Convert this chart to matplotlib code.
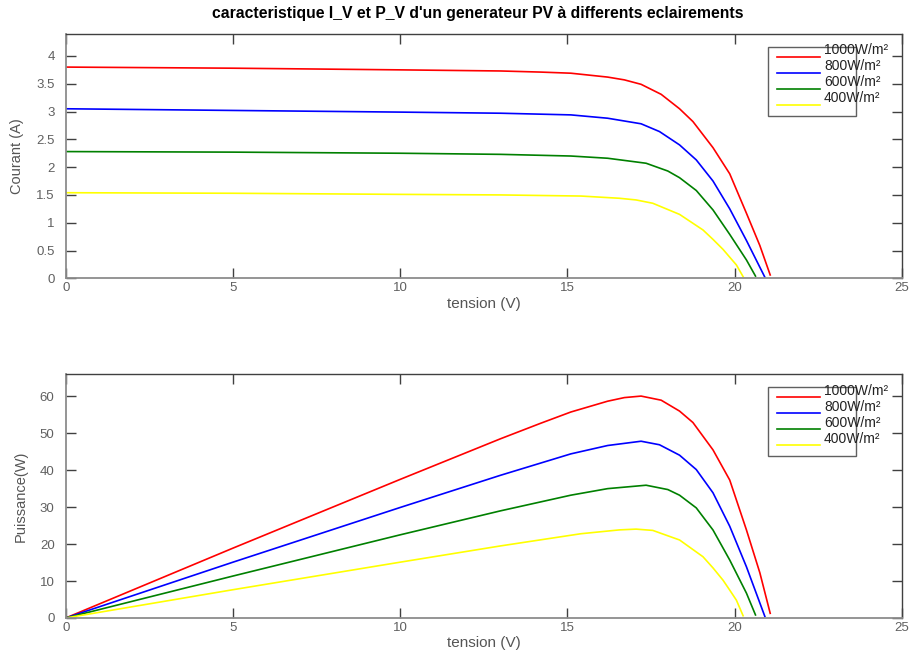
import numpy as np
import matplotlib
matplotlib.use("Agg")
import matplotlib.pyplot as plt
from matplotlib.patches import Rectangle

plt.rcParams['font.family'] = ['Liberation Sans', 'DejaVu Sans']

# Courbes I(V) relevées pour chaque éclairement
eclairements = ['1000W/m²', '800W/m²', '600W/m²', '400W/m²']
couleurs = ['#ff0000', '#0000ff', '#008000', '#ffff00']

v_1000 = [0, 5, 10, 13, 14.2, 15.1, 16.2, 16.7, 17.2, 17.8, 18.35, 18.75, 19.35, 19.85, 20.35, 20.75, 21.06]
i_1000 = [3.80, 3.78, 3.75, 3.73, 3.71, 3.69, 3.62, 3.57, 3.49, 3.31, 3.05, 2.82, 2.35, 1.88, 1.17, 0.59, 0.06]

v_800 = [0, 5, 10, 13, 15.1, 16.2, 17.2, 17.75, 18.35, 18.85, 19.35, 19.85, 20.35, 20.9]
i_800 = [3.05, 3.02, 2.99, 2.97, 2.94, 2.88, 2.78, 2.64, 2.40, 2.13, 1.75, 1.25, 0.68, 0.02]

v_600 = [0, 5, 10, 13, 15.1, 16.2, 17.35, 18.0, 18.35, 18.85, 19.35, 19.85, 20.35, 20.62]
i_600 = [2.28, 2.27, 2.25, 2.23, 2.20, 2.16, 2.07, 1.93, 1.81, 1.58, 1.23, 0.79, 0.33, 0.04]

v_400 = [0, 5, 10, 13, 15.4, 16.55, 17.05, 17.55, 18.35, 19.05, 19.35, 19.65, 19.85, 20.05, 20.25]
i_400 = [1.54, 1.53, 1.51, 1.50, 1.48, 1.44, 1.41, 1.35, 1.15, 0.87, 0.70, 0.52, 0.38, 0.24, 0.03]

tensions = [v_1000, v_800, v_600, v_400]
courants = [i_1000, i_800, i_600, i_400]

fig = plt.figure(figsize=(9.09, 6.55), dpi=100)
ax1 = fig.add_axes([0.0723, 0.5751, 0.9200, 0.3734])
ax2 = fig.add_axes([0.0723, 0.0565, 0.9200, 0.3725])

for v, i, c in zip(tensions, courants, couleurs):
    v = np.array(v)
    i = np.array(i)
    ax1.plot(v, i, color=c, lw=1.2)
    ax2.plot(v, v * i, color=c, lw=1.2)

ax1.set_ylim(0, 4.4)
ax1.set_yticks(np.arange(0, 4.01, 0.5))
ax1.set_yticklabels(['0', '0.5', '1', '1.5', '2', '2.5', '3', '3.5', '4'])
ax2.set_ylim(0, 66)
ax2.set_yticks(np.arange(0, 61, 10))

ax1.set_ylabel('Courant (A)', fontsize=10.5, color='#555555', va='center')
ax2.set_ylabel('Puissance(W)', fontsize=10.5, color='#555555', va='center')
ax1.yaxis.set_label_coords(-0.058, 0.5)
ax2.yaxis.set_label_coords(-0.054, 0.5)

for ax in (ax1, ax2):
    ax.set_xlim(0, 25)
    ax.set_xticks(np.arange(0, 26, 5))
    ax.set_xlabel('tension (V)', fontsize=11, color='#555555', va='center')
    ax.xaxis.set_label_coords(0.5, -0.103)
    ax.tick_params(direction='in', length=7, width=1, color='#404040',
                   labelcolor='#606060', labelsize=9.5, top=True, right=True)
    ax.tick_params(axis='y', pad=8)
    ax.tick_params(axis='x', pad=3)
    for s in ('left', 'bottom'):
        ax.spines[s].set_color('#8c8c8c')
        ax.spines[s].set_linewidth(1.3)
    for s in ('top', 'right'):
        ax.spines[s].set_color('#404040')
        ax.spines[s].set_linewidth(1.0)

    # légende dessinée à la main, textes un peu décalés vers le haut
    ax.add_patch(Rectangle((0.8398, 0.6635), 0.1046, 0.2821, transform=ax.transAxes,
                           facecolor='white', edgecolor='#606060', lw=1.0, zorder=5))
    y_lignes = [0.9048, 0.8394, 0.7740, 0.7085]
    for k, (lab, c) in enumerate(zip(eclairements, couleurs)):
        ax.plot([0.8506, 0.9020], [y_lignes[k], y_lignes[k]], color=c, lw=1.2,
                transform=ax.transAxes, zorder=6)
        ax.text(0.9067, y_lignes[k] + 0.027, lab, transform=ax.transAxes,
                fontsize=10, color='#222222', va='center', ha='left', zorder=7)

fig.text(0.526, 0.980, "caracteristique I_V et P_V d'un generateur PV à differents eclairements",
         ha='center', va='center', fontsize=11.3, fontweight='bold', color='black')

fig.savefig('out.png', dpi=100)
